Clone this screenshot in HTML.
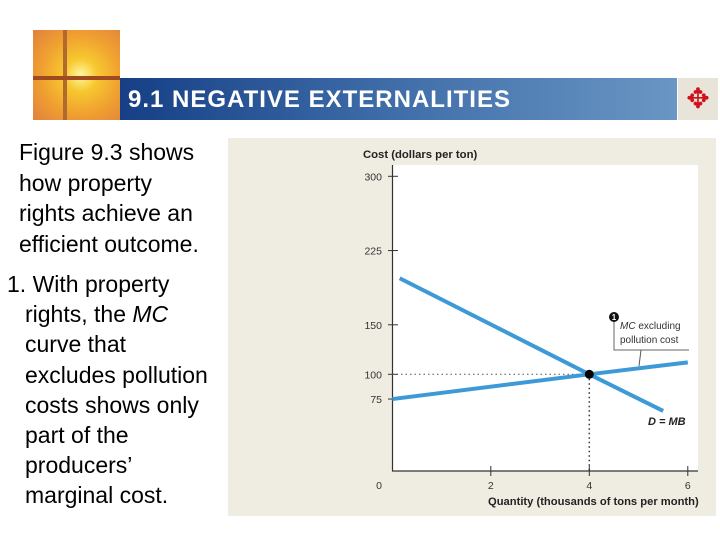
<!DOCTYPE html>
<html><head><meta charset="utf-8"><style>
body{margin:0;width:720px;height:540px;background:#fff;position:relative;overflow:hidden;font-family:"Liberation Sans",sans-serif}
.abs{position:absolute}
.ind{padding-left:18px}
</style></head><body>
<div class="abs" style="left:33px;top:30px;width:87px;height:90px;background:radial-gradient(circle at 55% 50%,#fff8a0 0,#f7c830 25%,#f0a030 60%,#e08040 100%)">
 <div class="abs" style="left:30px;top:0;width:4px;height:90px;background:#b06a30"></div>
 <div class="abs" style="left:0;top:46px;width:87px;height:4px;background:#a04a20"></div>
</div>
<div class="abs" style="left:120px;top:78px;width:557px;height:42px;background:linear-gradient(90deg,#163f86,#3c6aa6 45%,#6a96c4);color:#fff;font-weight:bold;font-size:24px;letter-spacing:1px;line-height:43px;padding-left:8px;box-sizing:border-box">9.1 NEGATIVE EXTERNALITIES</div>
<div class="abs" style="left:678px;top:78px;width:40px;height:42px;background:#e8e4da;color:#d0101a;font-size:28px;text-align:center;line-height:42px">✥</div>
<div class="abs" style="left:19px;top:137px;font-size:23px;line-height:30.5px;color:#000;white-space:nowrap">Figure 9.3 shows<br>how property<br>rights achieve an<br>efficient outcome.</div>
<div class="abs" style="left:7px;top:269px;font-size:23px;line-height:30.2px;color:#000;white-space:nowrap"><div>1. With property</div><div class="ind">rights, the <i>MC</i></div><div class="ind">curve that</div><div class="ind">excludes pollution</div><div class="ind">costs shows only</div><div class="ind">part of the</div><div class="ind">producers’</div><div class="ind">marginal cost.</div></div>
<svg class="abs" style="left:0;top:0" width="720" height="540" id="chart"></svg>
<script>
const xTicks=[0,2,4,6];
const yTicks=[300,225,150,100,75];
const demandQ=[0.15,4,5.5];
const demandP=[197,100,63];
const mcQ=[0,4,6];
const mcP=[75,100,112];
const eqQ=4, eqP=100;
const X=q=>392.3+q*49.25, Y=p=>473.3-p*0.99;
const s=document.getElementById('chart');const NS='http://www.w3.org/2000/svg';
function el(t,a,txt){const e=document.createElementNS(NS,t);for(const k in a)e.setAttribute(k,a[k]);if(txt!=null)e.textContent=txt;s.appendChild(e);return e;}
let e;
e=el('rect',{x:228,y:138,width:488,height:378,fill:'#efede2'});


e=el('rect',{x:392,y:165,width:306,height:306,fill:'#fff'});


e=el('text',{x:363,y:158,'font-size':11.3,'font-weight':'bold',fill:'#222'},'Cost (dollars per ton)');


e=el('text',{x:488,y:505,'font-size':11.2,'font-weight':'bold',fill:'#222'},'Quantity (thousands of tons per month)');


el('line',{x1:392.5,y1:165,x2:392.5,y2:471,stroke:'#333','stroke-width':1.2});
el('line',{x1:392,y1:471,x2:698,y2:471,stroke:'#333','stroke-width':1.2});
yTicks.forEach(v=>{el('line',{x1:388,y1:Y(v),x2:398,y2:Y(v),stroke:'#333'});
e=el('text',{x:382,y:Y(v)+4,'font-size':10.5,'text-anchor':'end',fill:'#333'},String(v));

});
xTicks.forEach(v=>{if(v>0)el('line',{x1:X(v),y1:466,x2:X(v),y2:476,stroke:'#333'});
e=el('text',{x:v==0?379:X(v),y:489,'font-size':10.5,'text-anchor':'middle',fill:'#333'},String(v));

});
el('line',{x1:392,y1:Y(eqP),x2:X(eqQ),y2:Y(eqP),stroke:'#555','stroke-dasharray':'1.5,3'});
el('line',{x1:X(eqQ),y1:Y(eqP),x2:X(eqQ),y2:471,stroke:'#333','stroke-dasharray':'1.5,3','stroke-width':1.5});
e=el('polyline',{points:mcQ.map((q,i)=>X(q)+','+Y(mcP[i])).join(' '),fill:'none',stroke:'#3d9ad6','stroke-width':4});


e=el('polyline',{points:demandQ.map((q,i)=>X(q)+','+Y(demandP[i])).join(' '),fill:'none',stroke:'#3d9ad6','stroke-width':4});


e=el('circle',{cx:X(eqQ),cy:Y(eqP),r:4.5,fill:'#000'});


el('path',{d:'M614,318 V350 H689',fill:'#fff',stroke:'#666'});
el('line',{x1:641,y1:350,x2:639,y2:366,stroke:'#555'});
el('circle',{cx:614,cy:317,r:5,fill:'#111'});
el('text',{x:614,y:320,'font-size':8,fill:'#fff','text-anchor':'middle','font-weight':'bold'},'1');
e=el('text',{x:620,y:329,'font-size':10,fill:'#333'},'');
e.innerHTML='<tspan font-style="italic">MC</tspan> excluding';


el('text',{x:620,y:343,'font-size':10,fill:'#333'},'pollution cost');
e=el('text',{x:648,y:425,'font-size':11,'font-weight':'bold','font-style':'italic',fill:'#222'},'D = MB');


</script>
</body></html>
